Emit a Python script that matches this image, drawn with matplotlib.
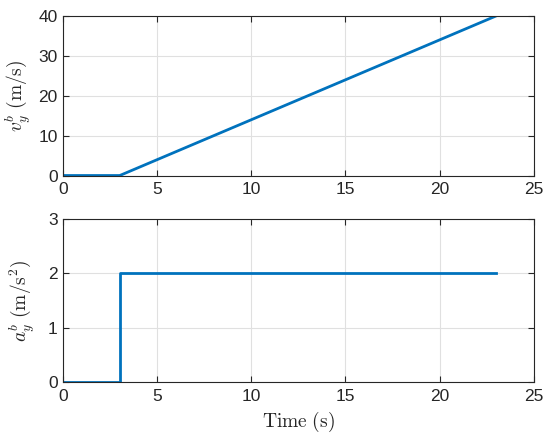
import matplotlib
matplotlib.use("Agg")
import matplotlib.pyplot as plt
import numpy as np

# data
t_vel = [0, 3, 23]
v_vel = [0, 0, 40]
t_acc = [0, 3, 3, 23]
a_acc = [0, 0, 2, 2]
xticks = [0, 5, 10, 15, 20, 25]
vel_yticks = [0, 10, 20, 30, 40]
acc_yticks = [0, 1, 2, 3]

plt.rcParams['font.family'] = ['Liberation Sans', 'DejaVu Sans']
plt.rcParams['mathtext.fontset'] = 'cm'

blue = (0, 0.447, 0.741)
axc = (0.15, 0.15, 0.15)

fig = plt.figure(figsize=(5.5, 4.41), dpi=100)
ax1 = fig.add_axes([0.1151, 0.602, 0.855, 0.3617])
ax2 = fig.add_axes([0.1151, 0.1327, 0.855, 0.3707])

def style(ax, yticks, ylim):
    ax.set_xlim(0, 25)
    ax.set_ylim(*ylim)
    ax.set_xticks(xticks)
    ax.set_yticks(yticks)
    ax.grid(True, color=(0.88, 0.88, 0.88), linewidth=0.8)
    ax.set_axisbelow(True)
    for s in ax.spines.values():
        s.set_color(axc)
        s.set_linewidth(0.8)
    ax.tick_params(direction='in', top=True, right=True, length=4, width=0.8,
                   colors=axc, labelsize=12.5, labelcolor=axc)
    ax.tick_params(axis='x', pad=5)
    ax.tick_params(axis='y', pad=4)

ax1.plot(t_vel, v_vel, color=blue, linewidth=2)
style(ax1, vel_yticks, (0, 40))
ax1.set_ylabel(r'$v_y^b\ \mathrm{(m/s)}$', fontsize=14, color=axc, labelpad=4)

ax2.plot(t_acc, a_acc, color=blue, linewidth=2)
style(ax2, acc_yticks, (0, 3))
ax2.set_ylabel(r'$a_y^b\ \mathrm{(m/s^2)}$', fontsize=14, color=axc, labelpad=8)
ax2.set_xlabel(r'$\mathrm{Time\ (s)}$', fontsize=14, color=axc, labelpad=4)

fig.savefig('out.png', dpi=100)
